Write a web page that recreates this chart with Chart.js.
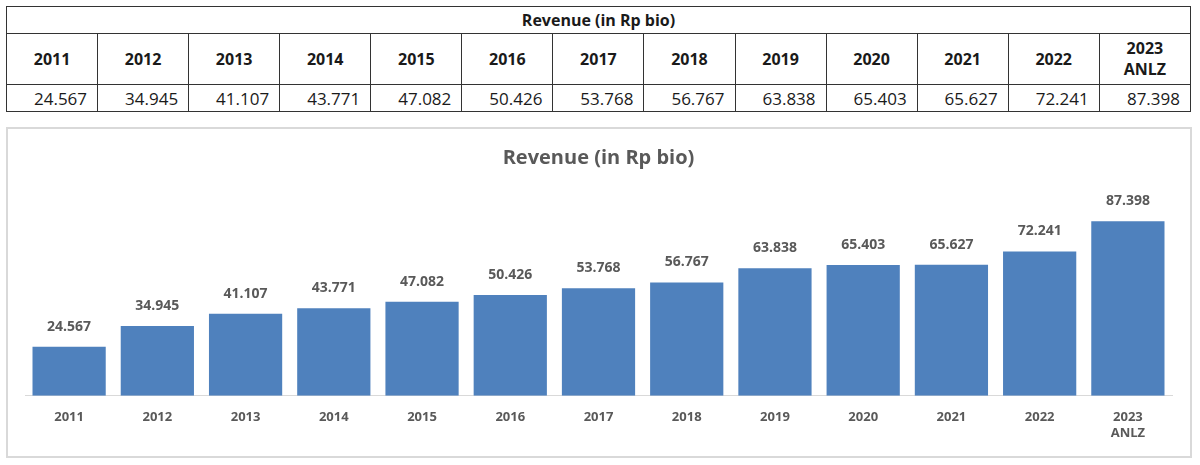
<!DOCTYPE html>
<html>
<head>
<meta charset="utf-8">
<script src="https://cdn.jsdelivr.net/npm/chart.js@4"></script>
<style>
  body { margin: 0; background: #fff; font-family: "Open Sans", sans-serif; }
  #tbl { position: absolute; left: 6px; top: 6px; width: 1185px; border-collapse: collapse; table-layout: fixed; color: #1a1a1a; }
  #tbl td, #tbl th { border: 1.5px solid #333; padding: 0; }
  #tbl .ttl { height: 26px; font-size: 16px; font-weight: bold; text-align: center; }
  #tbl th { height: 50px; font-size: 16px; line-height: 21px; text-align: center; }
  #tbl td.v { height: 26px; font-size: 17px; text-align: right; padding-right: 10px; }
  #box { position: absolute; left: 6px; top: 127px; width: 1182px; height: 327px; border: 2px solid #d9d9d9; }
</style>
</head>
<body>
<table id="tbl"><thead></thead><tbody></tbody></table>
<div id="box"><canvas id="revChart"></canvas></div>
<script>
// データ
const years = ['2011', '2012', '2013', '2014', '2015', '2016', '2017', '2018', '2019', '2020', '2021', '2022', ['2023', 'ANLZ']];
const revenue = [24.567, 34.945, 41.107, 43.771, 47.082, 50.426, 53.768, 56.767, 63.838, 65.403, 65.627, 72.241, 87.398];
const title = 'Revenue (in Rp bio)';

// 表の作成
const thead = document.querySelector('#tbl thead');
const tbody = document.querySelector('#tbl tbody');
thead.innerHTML = '<tr><td class="ttl" colspan="' + years.length + '">' + title + '</td></tr>';
let headRow = '<tr>';
let valRow = '<tr>';
years.forEach((y, i) => {
    headRow += '<th>' + (Array.isArray(y) ? y.join('<br>') : y) + '</th>';
    valRow += '<td class="v">' + revenue[i].toFixed(3) + '</td>';
});
tbody.innerHTML = headRow + '</tr>' + valRow + '</tr>';

// 値ラベル
const valueLabels = {
    id: 'valueLabels',
    afterDatasetsDraw(chart) {
        const ctx = chart.ctx;
        const meta = chart.getDatasetMeta(0);
        ctx.save();
        ctx.font = 'bold 14px "Open Sans"';
        ctx.fillStyle = '#595959';
        ctx.textAlign = 'center';
        ctx.textBaseline = 'middle';
        meta.data.forEach((bar, i) => {
            ctx.fillText(revenue[i].toFixed(3), bar.x, bar.y - 20);
        });
        ctx.restore();
    }
};

const ctx = document.getElementById('revChart').getContext('2d');
const revChart = new Chart(ctx, {
    type: 'bar',
    data: {
        labels: years,
        datasets: [{
            label: title,
            data: revenue,
            backgroundColor: '#4f81bd',
            categoryPercentage: 0.83,
            barPercentage: 1
        }]
    },
    options: {
        responsive: true,
        maintainAspectRatio: false,
        animation: false,
        layout: { padding: { left: 17, right: 18, bottom: 9 } },
        plugins: {
            legend: { display: false },
            tooltip: { enabled: false },
            title: {
                display: true,
                text: title,
                color: '#595959',
                font: { family: 'Open Sans', size: 20, weight: 'bold' },
                padding: { top: 17, bottom: 26 }
            }
        },
        scales: {
            x: {
                grid: { display: false },
                border: { display: true, color: '#d9d9d9', width: 1 },
                ticks: {
                    color: '#595959',
                    font: { family: 'Open Sans', size: 13, weight: 'bold' },
                    padding: 6,
                    maxRotation: 0,
                    autoSkip: false
                }
            },
            y: {
                display: false,
                min: 0,
                max: 100
            }
        }
    },
    plugins: [valueLabels]
});
</script>
</body>
</html>
